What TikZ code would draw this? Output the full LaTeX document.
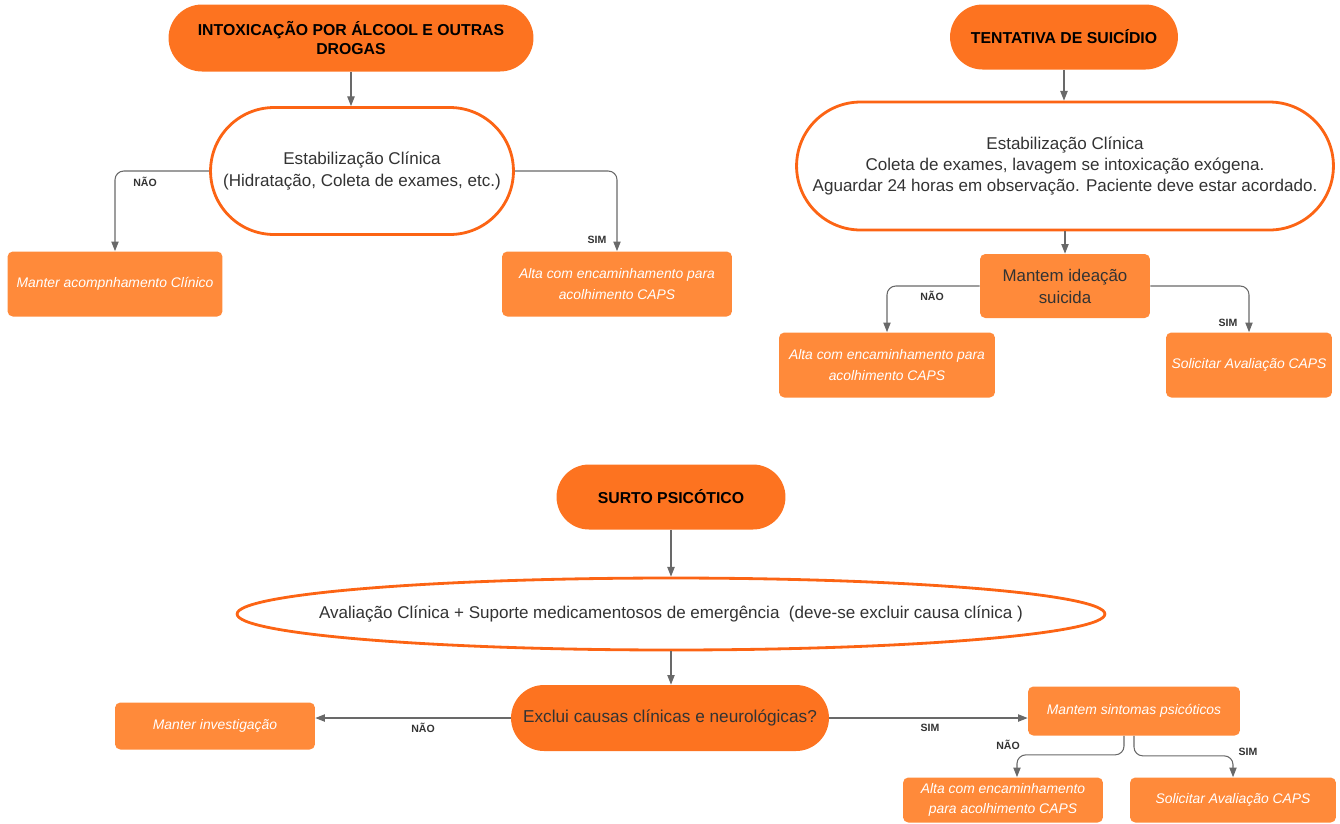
\documentclass[tikz,border=0pt]{standalone}
\usepackage{fontspec}
\setmainfont{Liberation Sans}
\usetikzlibrary{arrows.meta,shapes.misc,shapes.geometric}
\definecolor{headorange}{RGB}{253,115,32}
\definecolor{boxorange}{RGB}{255,138,58}
\definecolor{lineorange}{RGB}{252,100,20}
\definecolor{textgray}{RGB}{51,51,51}
\definecolor{wiregray}{RGB}{105,105,105}

\begin{document}
\begin{tikzpicture}[x=0.02cm,y=-0.02cm,
    headnode/.style={rounded rectangle,fill=headorange,text=black,align=center,
      font=\fontsize{9}{10.5}\selectfont\bfseries,inner sep=2pt},
    careblock/.style={rounded rectangle,draw=lineorange,line width=1.6pt,fill=white,
      text=textgray,align=center,font=\fontsize{9.7}{12}\selectfont,inner sep=2pt},
    choicebox/.style={rectangle,rounded corners=3pt,fill=boxorange,text=textgray,
      align=center,font=\fontsize{9.6}{12.5}\selectfont,inner sep=2pt},
    endbox/.style={rectangle,rounded corners=3pt,fill=boxorange,text=white,
      align=center,font=\fontsize{7.9}{12}\selectfont\itshape,inner sep=2pt},
    wire/.style={draw=wiregray,line width=0.6pt,rounded corners=5pt,
      -{Triangle[length=5.5pt,width=4.2pt]}},
    answer/.style={font=\fontsize{6}{7}\selectfont\bfseries,text=textgray,inner sep=0pt}]
  \useasboundingbox (0,0) rectangle (1340,823);

  % intoxicacao
  \node[headnode,minimum width=7.44cm,minimum height=1.34cm] (iHead) at (351,38)
        {INTOXICAÇÃO POR ÁLCOOL E OUTRAS\\DROGAS};
  \node[careblock,minimum width=6.2cm,minimum height=2.54cm] (iEst) at (362,171)
        {Estabilização Clínica\\(Hidratação, Coleta de exames, etc.)};
  \node[endbox,minimum width=4.3cm,minimum height=1.3cm] (iNao) at (115,284)
        {Manter acompnhamento Clínico};
  \node[endbox,minimum width=4.6cm,minimum height=1.3cm] (iSim) at (617,284)
        {Alta com encaminhamento para\\acolhimento CAPS};
  \draw[wire] (iHead.south) -- (iHead.south |- iEst.north);
  \draw[wire] (iEst.west) -| (iNao.north);
  \draw[wire] (iEst.east) -| (iSim.north);
  \node[answer] (iNaoLbl) at (145,182) {NÃO};
  \node[answer] (iSimLbl) at (597,240) {SIM};

  % tentativa de suicidio
  \node[headnode,minimum width=4.7cm,minimum height=1.3cm] (tHead) at (1064,37)
        {TENTATIVA DE SUICÍDIO};
  \node[careblock,minimum width=10.88cm,minimum height=2.56cm] (tEst) at (1065,166)
        {Estabilização Clínica\\Coleta de exames, lavagem se intoxicação exógena.\\
         Aguardar 24 horas em observação. Paciente deve estar acordado.};
  \node[choicebox,minimum width=3.4cm,minimum height=1.28cm] (tIde) at (1065,286)
        {Mantem ideação\\suicida};
  \node[endbox,minimum width=4.32cm,minimum height=1.3cm] (tNao) at (887,365)
        {Alta com encaminhamento para\\acolhimento CAPS};
  \node[endbox,minimum width=3.32cm,minimum height=1.3cm] (tSim) at (1249,365)
        {Solicitar Avaliação CAPS};
  \draw[wire] (tHead.south) -- (tHead.south |- tEst.north);
  \draw[wire] (tEst.south) -- (tEst.south |- tIde.north);
  \draw[wire] (tIde.west) -| (tNao.north);
  \draw[wire] (tIde.east) -| (tSim.north);
  \node[answer] (tNaoLbl) at (932,296) {NÃO};
  \node[answer] (tSimLbl) at (1228,323) {SIM};

  % surto psicotico
  \node[headnode,minimum width=4.72cm,minimum height=1.3cm] (sHead) at (671,497)
        {SURTO PSICÓTICO};
  % zero-width box so the ellipse keeps its own size
  \node[careblock,ellipse,minimum width=17.36cm,minimum height=1.44cm] (sAva) at (671,614)
        {\makebox[0pt]{Avaliação Clínica + Suporte medicamentosos de emergência\ \ (deve-se excluir causa clínica )}};
  \node[headnode,font=\fontsize{9.8}{11}\selectfont,text=textgray,
        minimum width=6.5cm,minimum height=1.32cm] (sEx) at (670,718)
        {Exclui causas clínicas e neurológicas?};
  \node[endbox,minimum width=4cm,minimum height=0.94cm] (sInv) at (215,726)
        {Manter investigação};
  \node[endbox,minimum width=4.24cm,minimum height=0.98cm] (sMan) at (1134,711)
        {Mantem sintomas psicóticos};
  \node[endbox,minimum width=4cm,minimum height=0.9cm,font=\fontsize{7.9}{11}\selectfont\itshape]
        (sAlta) at (1003,800) {Alta com encaminhamento\\para acolhimento CAPS};
  \node[endbox,minimum width=4.12cm,minimum height=0.9cm] (sSol) at (1233,800)
        {Solicitar Avaliação CAPS};
  \draw[wire] (sHead.south) -- (sHead.south |- sAva.north);
  \draw[wire] (sAva.south) -- (sAva.south |- sEx.north);
  \draw[wire] (sEx.west) -- (sEx.west -| sInv.east);
  \draw[wire] (sEx.east) -- (sEx.east -| sMan.west);
  \draw[wire] ([xshift=-0.2cm]sMan.south) -- ++(0,19) -| ([xshift=0.28cm]sAlta.north);
  \draw[wire] (sMan.south) -- ++(0,20) -| (sSol.north);
  \node[answer] (sNaoLbl) at (423,728) {NÃO};
  \node[answer] (sSimLbl) at (930,728) {SIM};
  \node[answer] (sNaoLbl2) at (1008,745) {NÃO};
  \node[answer] (sSimLbl2) at (1248,752) {SIM};
\end{tikzpicture}
\end{document}
